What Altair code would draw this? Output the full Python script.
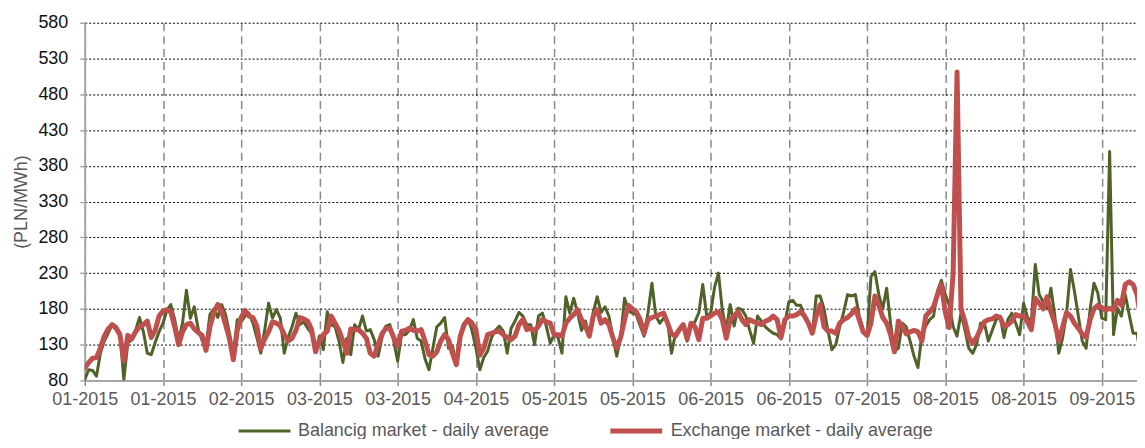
import altair as alt
import pandas as pd

SERIES = ["Balancig market - daily average", "Exchange market - daily average"]
COLORS = ["#4F6228", "#C0504D"]
WIDTHS = [3, 5]

# Balancing market daily average (PLN/MWh), 2015-01-01 .. 2015-09-28
bal_jan = [81, 95, 94, 86, 118, 135, 146, 158, 156, 146, 81, 132, 137, 150, 168, 148,
           118, 116, 133, 148, 160, 178, 186, 165, 136, 160, 206, 167, 183, 152, 136]
bal_feb = [128, 172, 180, 168, 186, 172, 146, 116, 165, 162, 170, 174, 160, 140, 118,
           150, 188, 167, 179, 167, 118, 140, 155, 174, 158, 162, 153, 146]
bal_mar = [121, 142, 123, 176, 158, 155, 135, 105, 139, 116, 158, 151, 170, 149, 151,
           137, 114, 140, 156, 158, 135, 107, 144, 144, 150, 165, 139, 135, 110, 95, 125]
bal_apr = [155, 160, 168, 125, 128, 102, 140, 160, 166, 150, 125, 95, 112, 121, 140,
           150, 156, 149, 118, 153, 163, 175, 170, 158, 158, 130, 170, 174, 156, 132]
bal_may = [144, 140, 118, 197, 174, 195, 174, 150, 163, 142, 175, 197, 175, 183, 170,
           140, 114, 140, 195, 178, 174, 172, 156, 142, 175, 216, 170, 160, 167, 163, 118]
bal_jun = [145, 152, 156, 135, 155, 162, 175, 214, 170, 174, 210, 230, 178, 151, 186,
           156, 181, 179, 170, 150, 132, 170, 163, 155, 150, 146, 144, 138, 160, 190]
bal_jul = [192, 185, 185, 170, 158, 146, 198, 198, 180, 149, 123, 130, 155, 175, 200,
           198, 200, 170, 150, 142, 225, 232, 200, 180, 209, 160, 121, 125, 160, 155, 135]
bal_aug = [114, 98, 144, 156, 165, 170, 205, 220, 200, 185, 155, 142, 174, 151, 125,
           118, 130, 160, 160, 135, 150, 165, 170, 140, 165, 174, 160, 144, 188, 168, 163]
bal_sep = [242, 200, 190, 180, 209, 170, 118, 140, 174, 235, 205, 170, 135, 125, 179,
           216, 202, 167, 165, 400, 144, 181, 170, 200, 172, 146, 146, 112]

# Exchange market daily average (PLN/MWh)
exc_jan = [97, 105, 111, 112, 125, 142, 152, 158, 153, 144, 107, 143, 138, 148, 155, 158,
           163, 140, 150, 170, 177, 179, 176, 155, 130, 148, 158, 160, 152, 147, 143]
exc_feb = [122, 155, 175, 186, 177, 158, 138, 109, 150, 168, 178, 170, 168, 156, 124,
           138, 148, 162, 160, 156, 144, 135, 139, 150, 168, 166, 163, 151]
exc_mar = [120, 135, 144, 149, 170, 160, 150, 135, 118, 152, 151, 151, 146, 139, 118,
           114, 130, 145, 153, 153, 140, 128, 149, 150, 153, 150, 149, 151, 135, 116, 114]
exc_apr = [120, 135, 144, 137, 118, 102, 142, 158, 165, 160, 151, 115, 125, 144, 146,
           148, 149, 144, 140, 137, 142, 158, 165, 151, 153, 149, 156, 165, 162, 160]
exc_may = [144, 144, 142, 160, 167, 172, 179, 165, 156, 142, 170, 179, 160, 165, 158,
           140, 125, 140, 165, 185, 180, 176, 165, 146, 165, 168, 170, 172, 174, 160, 145]
exc_jun = [142, 151, 158, 138, 160, 155, 137, 167, 167, 170, 174, 176, 165, 139, 165,
           170, 176, 165, 158, 165, 162, 160, 158, 163, 165, 170, 165, 140, 165, 170]
exc_jul = [170, 172, 176, 170, 160, 146, 170, 186, 155, 149, 149, 146, 160, 165, 168,
           173, 180, 165, 148, 143, 160, 198, 185, 168, 160, 144, 120, 163, 156, 145, 148]
exc_aug = [150, 148, 135, 170, 176, 183, 200, 214, 175, 154, 230, 511, 180, 163, 140,
           132, 140, 152, 162, 165, 166, 170, 168, 156, 158, 163, 172, 170, 170, 162, 151]
exc_sep = [195, 188, 180, 197, 176, 160, 135, 155, 175, 170, 160, 153, 145, 140, 165,
           180, 185, 182, 178, 181, 178, 192, 185, 214, 218, 214, 200, 165]

balancing = bal_jan + bal_feb + bal_mar + bal_apr + bal_may + bal_jun + bal_jul + bal_aug + bal_sep
exchange = exc_jan + exc_feb + exc_mar + exc_apr + exc_may + exc_jun + exc_jul + exc_aug + exc_sep

# x-axis tick dates (every 20 days) and y-axis ticks
x_ticks = [(1, 1), (1, 21), (2, 10), (3, 2), (3, 22), (4, 11), (5, 1), (5, 21),
           (6, 10), (6, 30), (7, 20), (8, 9), (8, 29), (9, 18)]
y_ticks = [80, 130, 180, 230, 280, 330, 380, 430, 480, 530, 580]

dates = pd.date_range("2015-01-01", periods=len(balancing), freq="D")
df = pd.concat([
    pd.DataFrame({"date": dates, "value": balancing, "series": SERIES[0]}),
    pd.DataFrame({"date": dates[:len(exchange)], "value": exchange, "series": SERIES[1]}),
])

FONT = "Liberation Sans"

legend = alt.Legend(
    title=None, orient="none", legendX=153, legendY=381, direction="horizontal",
    symbolType="stroke", symbolSize=2704, labelFontSize=18, labelColor="#595959",
    labelFont=FONT, labelOffset=6, labelLimit=500, columnPadding=50, padding=0,
)

chart = alt.Chart(df).mark_line(strokeJoin="round", strokeCap="round", clip=True).encode(
    x=alt.X(
        "date:T",
        scale=alt.Scale(domain=[alt.DateTime(year=2015, month=1, date=1),
                                alt.DateTime(year=2015, month=9, date=27)], nice=False),
        axis=alt.Axis(
            values=[alt.DateTime(year=2015, month=m, date=d) for m, d in x_ticks],
            format="%m-%Y", title=None, labelFontSize=18, labelColor="#595959",
            labelFont=FONT, labelFlush=False, labelOverlap=False, labelBound=False,
            labelPadding=5, tickSize=5, tickColor="#8a8a8a", tickWidth=1.5,
            grid=True, gridColor="#8a8a8a", gridDash=[8, 5], gridWidth=1.5,
            domainColor="#a6a6a6", domainWidth=2,
        ),
    ),
    y=alt.Y(
        "value:Q",
        scale=alt.Scale(domain=[80, 580], nice=False, zero=False),
        axis=alt.Axis(
            values=y_ticks, title="(PLN/MWh)", titleColor="#595959", titleFontSize=18,
            titleFontWeight="normal", titleFont=FONT, titlePadding=7,
            labelFontSize=18, labelColor="#111111", labelFont=FONT, labelPadding=12,
            tickSize=5, tickColor="#a6a6a6", tickWidth=1.5,
            grid=True, gridColor="#000000", gridDash=[2, 2], gridWidth=1,
            domainColor="#a6a6a6", domainWidth=2,
        ),
    ),
    color=alt.Color("series:N", scale=alt.Scale(domain=SERIES, range=COLORS), legend=legend),
    strokeWidth=alt.StrokeWidth("series:N", scale=alt.Scale(domain=SERIES, range=WIDTHS), legend=legend),
).properties(
    width=1056, height=359,
    autosize=alt.AutoSizeParams(type="none"),
    padding={"left": 77, "top": 14, "right": 0, "bottom": 58},
).configure_view(strokeWidth=0)

chart.save("out.html", embed_options={"renderer": "svg", "actions": False})
